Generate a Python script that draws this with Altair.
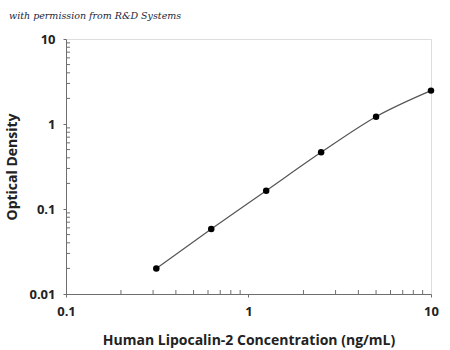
import altair as alt
import pandas as pd

conc = [0.3125, 0.625, 1.25, 2.5, 5, 10]
od = [0.020, 0.058, 0.164, 0.464, 1.22, 2.47]

x_major = [0.1, 1, 10]
y_major = [0.01, 0.1, 1, 10]
x_minor = [0.2, 0.3, 0.4, 0.5, 0.6, 0.7, 0.8, 0.9, 2, 3, 4, 5, 6, 7, 8, 9]
y_minor = [0.02, 0.03, 0.04, 0.05, 0.06, 0.07, 0.08, 0.09,
           0.2, 0.3, 0.4, 0.5, 0.6, 0.7, 0.8, 0.9,
           2, 3, 4, 5, 6, 7, 8, 9]

W, H = 365, 255
AX = "#6e6e6e"
FONT = "Open Sans"

df = pd.DataFrame({"conc": conc, "od": od})

xscale = alt.Scale(type="log", domain=[0.1, 10], nice=False)
yscale = alt.Scale(type="log", domain=[0.01, 10], nice=False)

xaxis = alt.Axis(values=x_major, format="~g", grid=False, tickSize=3, tickColor=AX,
                 domainColor=AX, labelFont=FONT, labelFontWeight="bold", labelFontSize=13,
                 labelColor="#222", labelPadding=8, labelFlush=False,
                 title="Human Lipocalin-2 Concentration (ng/mL)", titleFont=FONT,
                 titleFontWeight="bold", titleFontSize=14, titleColor="#222", titlePadding=15)
yaxis = alt.Axis(values=y_major, format="~g", grid=False, tickSize=3, tickColor=AX,
                 domainColor=AX, labelFont=FONT, labelFontWeight="bold", labelFontSize=13,
                 labelColor="#222", labelPadding=8, labelFlush=False,
                 title="Optical Density", titleFont=FONT, titleFontWeight="bold",
                 titleFontSize=14, titleColor="#222", titlePadding=9)

base = alt.Chart(df)
line = base.mark_line(color="#555555", strokeWidth=1.2, interpolate="monotone").encode(
    x=alt.X("conc:Q", scale=xscale, axis=xaxis),
    y=alt.Y("od:Q", scale=yscale, axis=yaxis),
)
pts = base.mark_circle(color="black", opacity=1, size=42).encode(
    x=alt.X("conc:Q", scale=xscale),
    y=alt.Y("od:Q", scale=yscale),
)

xm = alt.Chart(pd.DataFrame({"v": x_minor})).mark_rule(color=AX, strokeWidth=1).encode(
    x=alt.X("v:Q", scale=xscale), y=alt.value(H), y2=alt.value(H - 4))
ym = alt.Chart(pd.DataFrame({"v": y_minor})).mark_rule(color=AX, strokeWidth=1).encode(
    y=alt.Y("v:Q", scale=yscale), x=alt.value(0), x2=alt.value(4))

note = alt.Chart(pd.DataFrame({"t": ["with permission from R&D Systems"]})).mark_text(
    font="DejaVu Serif", fontStyle="italic", fontSize=9.5, color="#1a1f3a",
    align="left", baseline="middle").encode(
    text="t:N", x=alt.value(-57), y=alt.value(-23))

chart = alt.layer(line, pts, xm, ym, note).properties(
    width=W, height=H,
    autosize=alt.AutoSizeParams(type="none"),
    padding={"left": 66, "top": 39, "right": 19, "bottom": 56},
).configure_view(stroke=None).configure(background="white")

chart.save("out.html", embed_options={"renderer": "svg", "actions": False})
